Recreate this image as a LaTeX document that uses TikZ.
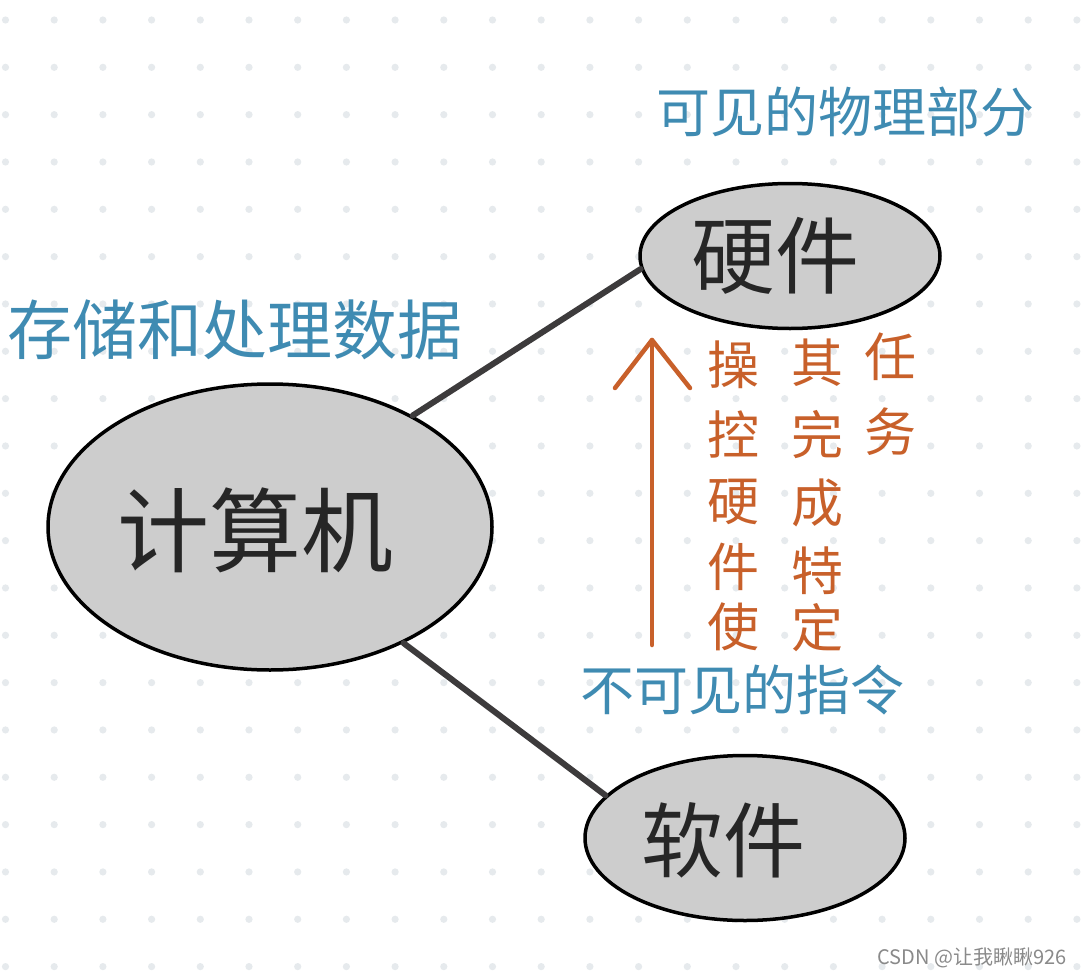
\documentclass[tikz,border=0pt]{standalone}
\usepackage{fontspec}
\newfontfamily\cjk{Noto Sans CJK SC}
\usetikzlibrary{shapes.geometric}
\definecolor{dotc}{HTML}{E6EAED}
\definecolor{fillg}{HTML}{CDCDCD}
\definecolor{linec}{HTML}{3D3B3C}
\definecolor{bluec}{HTML}{3F8BB2}
\definecolor{orangec}{HTML}{C8602A}
\definecolor{markc}{HTML}{8A8A8A}
\tikzset{
  blob/.style={ellipse, draw=black, line width=3.5pt, fill=fillg, inner sep=0pt},
  link/.style={draw=linec, line width=6pt, line cap=round},
  bluetext/.style={text=bluec, font=\cjk\fontsize{54pt}{54pt}\selectfont, inner sep=0pt},
  bigtext/.style={text=black!85, inner sep=0pt},
  otext/.style={text=orangec, font=\cjk\fontsize{52pt}{52pt}\selectfont, inner sep=0pt},
  oline/.style={draw=orangec, line width=4.5pt, line cap=round, line join=round},
}
\begin{document}
\begin{tikzpicture}[x=1pt,y=-1pt]
\useasboundingbox (0,0) rectangle (1082,977);
\fill[white] (0,0) rectangle (1082,977);
\foreach \i in {0,...,22} {
  \foreach \j in {0,...,20} {
    \fill[dotc] ({5.5+48.7*\i},{20+47.33*\j}) circle (3.6pt);
  }
}
% ellipses
\node[blob, minimum width=444pt, minimum height=286pt] (comp) at (270,527) {};
\node[blob, minimum width=300pt, minimum height=145pt] (hw) at (790,256) {};
\node[blob, minimum width=320pt, minimum height=165pt] (sw) at (745,838) {};
% connectors
\draw[link] (comp.38) -- (hw.185);
\draw[link] (comp.319) -- (sw.163);
% labels inside
\node[bigtext, font=\cjk\fontsize{92pt}{92pt}\selectfont] (tcomp) at (255,530) {计算机};
\node[bigtext, font=\cjk\fontsize{84pt}{84pt}\selectfont] (thw) at (775,256) {硬件};
\node[bigtext, font=\cjk\fontsize{82pt}{82pt}\selectfont] (tsw) at (723,840) {软件};
% blue labels
\node[bluetext] (vis) at (845,112) {可见的物理部分};
\node[bluetext, font=\cjk\fontsize{65pt}{65pt}\selectfont] (store) at (235,330) {存储和处理数据};
\node[bluetext] (invis) at (742,690) {不可见的指令};
% orange arrow
\coordinate (atop) at (652,340);
\coordinate (abot) at (652,645);
\coordinate (hl) at (615,388);
\coordinate (hr) at (690,388);
\draw[oline] (abot) -- (atop);
\draw[oline] (hl) -- (atop) -- (hr);
% orange text
\node[otext] (o1) at (733,365) {操};
\node[otext] (o2) at (733,435) {控};
\node[otext] (o3) at (733,502) {硬};
\node[otext] (o4) at (733,567) {件};
\node[otext] (o5) at (733,627) {使};
\node[otext] (o6) at (817,363) {其};
\node[otext] (o7) at (817,435) {完};
\node[otext] (o8) at (817,503) {成};
\node[otext] (o9) at (817,571) {特};
\node[otext] (o10) at (817,628) {定};
\node[otext] (o11) at (890,357) {任};
\node[otext] (o12) at (890,432) {务};
% watermark
\node[text=markc, font=\cjk\fontsize{20pt}{20pt}\selectfont, inner sep=0pt, anchor=east] (wm) at (1067,958) {CSDN @让我瞅瞅926};
\end{tikzpicture}
\end{document}
